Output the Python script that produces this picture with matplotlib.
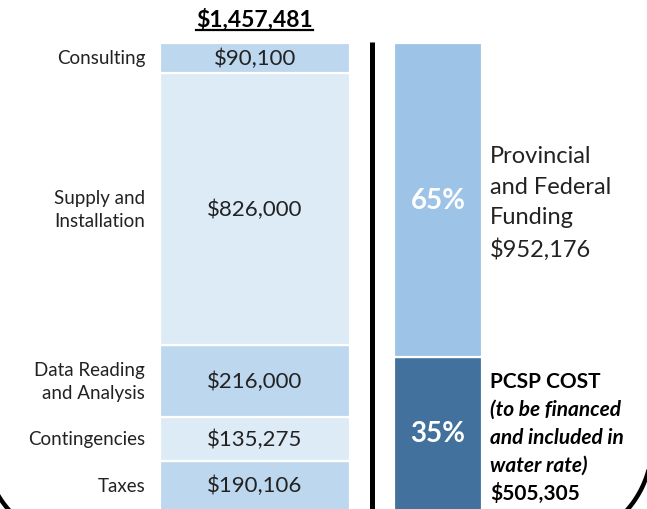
import matplotlib
matplotlib.use("Agg")
import numpy as np
import matplotlib.pyplot as plt
from matplotlib.lines import Line2D

plt.rcParams['font.family'] = ['Lato', 'DejaVu Sans']

# ---- data ----
cost_labels = ["Taxes", "Contingencies", "Data Reading\nand Analysis",
               "Supply and\nInstallation", "Consulting"]
cost_values = [190106, 135275, 216000, 826000, 90100]
cost_colors = ["#BDD7EE", "#DDEBF7", "#BDD7EE", "#DDEBF7", "#BDD7EE"]

fund_labels = ["35%", "65%"]
fund_values = [505305, 952176]
fund_colors = ["#41719C", "#9DC3E6"]
total_cost = 1457481

W, H = 647, 510
fig = plt.figure(figsize=(W / 100, H / 100), dpi=100)
ax = fig.add_axes([0, 0, 1, 1])
ax.set_xlim(0, W)
# vertical scale: value 0 at pixel 525 (below figure), total at pixel 44
s = (525 - 44) / total_cost
ax.set_ylim((525 - H) / s, 525 / s)
ax.axis("off")


def ypx(p):
    """pixel row (from top) -> data value"""
    return (525 - p) / s


# left stacked bar
x_left, w_left = 159.5, 190.5
bottom = 0
ylo = ax.get_ylim()[0]
for lab, v, c in zip(cost_labels, cost_values, cost_colors):
    ax.bar(x_left, v, width=w_left, bottom=bottom, align="edge",
           color=c, edgecolor="white", linewidth=1.6)
    ymid = (max(bottom, ylo) + bottom + v) / 2
    ax.text(x_left + w_left / 2, ymid, f"${v:,}", ha="center", va="center",
            fontsize=16, color="#222222")
    ax.text(145, ymid, lab, ha="right", va="center", fontsize=13.5,
            color="#222222", linespacing=1.4)
    bottom += v

# right stacked bar
x_right, w_right = 394, 88
bottom = 0
for lab, v, c in zip(fund_labels, fund_values, fund_colors):
    ax.bar(x_right, v, width=w_right, bottom=bottom, align="edge",
           color=c, edgecolor="white", linewidth=1.6)
    ymid = (max(bottom, ylo) + bottom + v) / 2
    ax.text(x_right + w_right / 2, ymid, lab, ha="center", va="center",
            fontsize=20, fontweight="bold", color="white")
    bottom += v

# separator line
ax.plot([371.5, 371.5], [ylo, total_cost + 1 / s], color="black",
        linewidth=3.6, solid_capstyle="butt")

# right side text
ax.text(490, ypx(146), "Provincial\nand Federal\nFunding\n"
        f"${fund_values[1]:,}", ha="left", va="top", fontsize=17,
        color="#222222", linespacing=1.56)

lines_pcsp = [("PCSP COST", "normal"), ("(to be financed", "italic"),
              ("and included in", "italic"), ("water rate)", "italic"),
              (f"${fund_values[0]:,}", "normal")]
for i, (t, st) in enumerate(lines_pcsp):
    ax.text(490, ypx(382 + i * 27.8), t, ha="left", va="center", fontsize=15,
            fontweight="bold", fontstyle=st, color="black")

# title
title = ax.text(x_left + w_left / 2, ypx(20), f"${total_cost:,}",
                ha="center", va="center", fontsize=16.5, fontweight="bold",
                color="black")
fig.canvas.draw()
bb = title.get_window_extent()
fig.add_artist(Line2D([bb.x0 / W, bb.x1 / W], [(H - 30.5) / H] * 2,
                      transform=fig.transFigure, color="black", linewidth=1.6))

# rounded frame: only the bottom corners fall inside the picture
R = 100
left_edge, right_edge, bottom_edge = -16, 652, 545
th = np.linspace(0, np.pi / 2, 60)
for cx, sign in [(left_edge + R, -1), (right_edge - R, 1)]:
    xs = cx + sign * R * np.cos(th)
    ys = (bottom_edge - R) + R * np.sin(th)
    fig.add_artist(Line2D(xs / W, (H - ys) / H, transform=fig.transFigure,
                          color="black", linewidth=3.2))

fig.savefig("out.png", dpi=100)
